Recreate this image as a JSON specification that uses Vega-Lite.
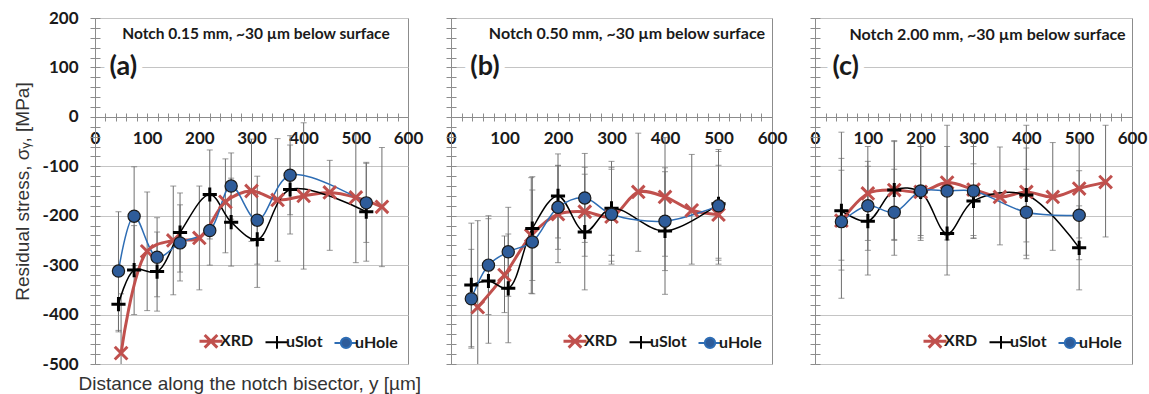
{
"$schema": "https://vega.github.io/schema/vega-lite/v6.json",
"padding": {"left": 12, "top": 8, "right": 0, "bottom": 0},
"autosize": {"type": "pad"},
"bounds": "flush",
"spacing": 43,
"background": "white",
"data": {"values": [
{"p":"a","s":"XRD","x":50,"y":-478,"lo":-598,"hi":-358},
{"p":"a","s":"XRD","x":100,"y":-272,"lo":-392,"hi":-152},
{"p":"a","s":"XRD","x":150,"y":-250,"lo":-360,"hi":-140},
{"p":"a","s":"XRD","x":200,"y":-245,"lo":-350,"hi":-140},
{"p":"a","s":"XRD","x":250,"y":-172,"lo":-275,"hi":-85},
{"p":"a","s":"XRD","x":300,"y":-150,"lo":-252,"hi":-45},
{"p":"a","s":"XRD","x":350,"y":-168,"lo":-292,"hi":-44},
{"p":"a","s":"XRD","x":400,"y":-160,"lo":-308,"hi":-12},
{"p":"a","s":"XRD","x":450,"y":-153,"lo":-270,"hi":-88},
{"p":"a","s":"XRD","x":500,"y":-163,"lo":-295,"hi":-35},
{"p":"a","s":"XRD","x":550,"y":-182,"lo":-303,"hi":-62},
{"p":"a","s":"uSlot","x":45,"y":-379,"lo":-435,"hi":-323},
{"p":"a","s":"uSlot","x":75,"y":-310,"lo":-400,"hi":-220},
{"p":"a","s":"uSlot","x":119,"y":-313,"lo":-393,"hi":-233},
{"p":"a","s":"uSlot","x":163,"y":-234,"lo":-314,"hi":-154},
{"p":"a","s":"uSlot","x":220,"y":-157,"lo":-247,"hi":-67},
{"p":"a","s":"uSlot","x":261,"y":-213,"lo":-302,"hi":-124},
{"p":"a","s":"uSlot","x":311,"y":-248,"lo":-345,"hi":-151},
{"p":"a","s":"uSlot","x":374,"y":-147,"lo":-237,"hi":-57},
{"p":"a","s":"uSlot","x":520,"y":-192,"lo":-292,"hi":-92},
{"p":"a","s":"uHole","x":45,"y":-312,"lo":-432,"hi":-192},
{"p":"a","s":"uHole","x":75,"y":-201,"lo":-301,"hi":-101},
{"p":"a","s":"uHole","x":119,"y":-284,"lo":-364,"hi":-204},
{"p":"a","s":"uHole","x":163,"y":-255,"lo":-332,"hi":-178},
{"p":"a","s":"uHole","x":220,"y":-230,"lo":-300,"hi":-160},
{"p":"a","s":"uHole","x":261,"y":-140,"lo":-207,"hi":-73},
{"p":"a","s":"uHole","x":311,"y":-209,"lo":-298,"hi":-120},
{"p":"a","s":"uHole","x":374,"y":-118,"lo":-198,"hi":-38},
{"p":"a","s":"uHole","x":520,"y":-174,"lo":-254,"hi":-94},
{"p":"b","s":"XRD","x":50,"y":-385,"lo":-560,"hi":-210},
{"p":"b","s":"XRD","x":100,"y":-320,"lo":-396,"hi":-241},
{"p":"b","s":"XRD","x":150,"y":-240,"lo":-357,"hi":-123},
{"p":"b","s":"XRD","x":200,"y":-197,"lo":-295,"hi":-99},
{"p":"b","s":"XRD","x":250,"y":-192,"lo":-282,"hi":-102},
{"p":"b","s":"XRD","x":300,"y":-202,"lo":-298,"hi":-106},
{"p":"b","s":"XRD","x":350,"y":-152,"lo":-272,"hi":-33},
{"p":"b","s":"XRD","x":400,"y":-162,"lo":-282,"hi":-42},
{"p":"b","s":"XRD","x":450,"y":-189,"lo":-298,"hi":-76},
{"p":"b","s":"XRD","x":500,"y":-198,"lo":-298,"hi":-98},
{"p":"b","s":"uSlot","x":38,"y":-340,"lo":-465,"hi":-215},
{"p":"b","s":"uSlot","x":70,"y":-332,"lo":-458,"hi":-206},
{"p":"b","s":"uSlot","x":107,"y":-347,"lo":-457,"hi":-237},
{"p":"b","s":"uSlot","x":152,"y":-226,"lo":-331,"hi":-121},
{"p":"b","s":"uSlot","x":200,"y":-160,"lo":-245,"hi":-75},
{"p":"b","s":"uSlot","x":250,"y":-233,"lo":-350,"hi":-116},
{"p":"b","s":"uSlot","x":300,"y":-185,"lo":-280,"hi":-90},
{"p":"b","s":"uSlot","x":400,"y":-231,"lo":-359,"hi":-103},
{"p":"b","s":"uSlot","x":500,"y":-176,"lo":-286,"hi":-66},
{"p":"b","s":"uHole","x":38,"y":-368,"lo":-468,"hi":-268},
{"p":"b","s":"uHole","x":70,"y":-300,"lo":-400,"hi":-200},
{"p":"b","s":"uHole","x":107,"y":-273,"lo":-363,"hi":-183},
{"p":"b","s":"uHole","x":152,"y":-253,"lo":-358,"hi":-148},
{"p":"b","s":"uHole","x":200,"y":-183,"lo":-268,"hi":-98},
{"p":"b","s":"uHole","x":250,"y":-164,"lo":-254,"hi":-74},
{"p":"b","s":"uHole","x":300,"y":-197,"lo":-292,"hi":-102},
{"p":"b","s":"uHole","x":400,"y":-211,"lo":-311,"hi":-111},
{"p":"b","s":"uHole","x":500,"y":-180,"lo":-290,"hi":-70},
{"p":"c","s":"XRD","x":50,"y":-210,"lo":-367,"hi":-31},
{"p":"c","s":"XRD","x":100,"y":-155,"lo":-250,"hi":-60},
{"p":"c","s":"XRD","x":150,"y":-148,"lo":-248,"hi":-48},
{"p":"c","s":"XRD","x":200,"y":-152,"lo":-250,"hi":-52},
{"p":"c","s":"XRD","x":250,"y":-133,"lo":-249,"hi":-17},
{"p":"c","s":"XRD","x":300,"y":-147,"lo":-246,"hi":-50},
{"p":"c","s":"XRD","x":350,"y":-162,"lo":-259,"hi":-61},
{"p":"c","s":"XRD","x":400,"y":-152,"lo":-287,"hi":-17},
{"p":"c","s":"XRD","x":450,"y":-162,"lo":-270,"hi":-52},
{"p":"c","s":"XRD","x":500,"y":-145,"lo":-245,"hi":-45},
{"p":"c","s":"XRD","x":550,"y":-132,"lo":-243,"hi":-17},
{"p":"c","s":"uSlot","x":50,"y":-190,"lo":-290,"hi":-84},
{"p":"c","s":"uSlot","x":100,"y":-211,"lo":-320,"hi":-100},
{"p":"c","s":"uSlot","x":150,"y":-148,"lo":-250,"hi":-50},
{"p":"c","s":"uSlot","x":200,"y":-152,"lo":-245,"hi":-60},
{"p":"c","s":"uSlot","x":250,"y":-236,"lo":-320,"hi":-152},
{"p":"c","s":"uSlot","x":300,"y":-170,"lo":-245,"hi":-95},
{"p":"c","s":"uSlot","x":400,"y":-158,"lo":-253,"hi":-63},
{"p":"c","s":"uSlot","x":500,"y":-265,"lo":-350,"hi":-180},
{"p":"c","s":"uHole","x":50,"y":-212,"lo":-310,"hi":-108},
{"p":"c","s":"uHole","x":100,"y":-180,"lo":-270,"hi":-90},
{"p":"c","s":"uHole","x":150,"y":-193,"lo":-280,"hi":-106},
{"p":"c","s":"uHole","x":200,"y":-150,"lo":-240,"hi":-60},
{"p":"c","s":"uHole","x":250,"y":-150,"lo":-240,"hi":-60},
{"p":"c","s":"uHole","x":300,"y":-150,"lo":-240,"hi":-60},
{"p":"c","s":"uHole","x":400,"y":-193,"lo":-280,"hi":-106},
{"p":"c","s":"uHole","x":500,"y":-199,"lo":-289,"hi":-109}
]},
"hconcat": [
{
"width": 313, "height": 346,
"transform": [{"filter": "datum.p === 'a'"}],
"resolve": {"axis": {"x": "independent", "y": "independent"}},
"layer": [
{"mark": {"type": "errorbar", "ticks": {"size": 6, "color": "#6e6e6e"}, "color": "#6e6e6e", "thickness": 1, "clip": true},
 "encoding": {
  "x": {"field": "x", "type": "quantitative", "scale": {"domain": [0, 600], "nice": false, "zero": false},
   "axis": {"orient": "bottom", "offset": -247, "values": [0,20,40,60,80,100,120,140,160,180,200,220,240,260,280,300,320,340,360,380,400,420,440,460,480,500,520,540,560,580,600], "labelExpr": "datum.value % 100 === 0 ? '' + datum.value : ''", "tickSize": 4, "labelPadding": 9, "grid": false,
    "title": "Distance along the notch bisector, y [µm]", "titleX": -17, "titleY": 266, "titleAnchor": "start", "titleAlign": "left", "titleBaseline": "middle", "titleFont": "Liberation Sans", "titleFontSize": 19, "titleFontWeight": "normal", "titleColor": "#333333"}},
  "y": {"field": "lo", "type": "quantitative", "scale": {"domain": [-500, 200], "nice": false, "zero": false},
   "axis": {"orient": "left", "values": [-500,-480,-460,-440,-420,-400,-380,-360,-340,-320,-300,-280,-260,-240,-220,-200,-180,-160,-140,-120,-100,-80,-60,-40,-20,0,20,40,60,80,100,120,140,160,180,200], "labelExpr": "datum.value % 100 === 0 ? '' + datum.value : ''", "grid": true, "gridOpacity": {"condition": {"test": "datum.value % 100 === 0", "value": 1}, "value": 0}, "tickSize": 5, "labelPadding": 12,
    "title": "Residual stress, σᵧ, [MPa]", "titleX": -73, "titleY": 173, "titleAngle": -90, "titleAlign": "center", "titleBaseline": "middle", "titleFont": "Liberation Sans", "titleFontSize": 19, "titleFontWeight": "normal", "titleColor": "#333333"}},
  "y2": {"field": "hi"}
 }},
{"transform": [{"filter": "datum.s === 'XRD'"}],
 "mark": {"type": "line", "interpolate": "catmull-rom", "strokeWidth": 3},
 "encoding": {
  "x": {"field": "x", "type": "quantitative", "axis": {"orient": "top", "offset": -99, "values": [0,20,40,60,80,100,120,140,160,180,200,220,240,260,280,300,320,340,360,380,400,420,440,460,480,500,520,540,560,580,600], "labels": false, "domain": false, "grid": false, "tickSize": 4, "title": null}},
  "y": {"field": "y", "type": "quantitative", "axis": {"orient": "right", "offset": -313, "values": [-500,-480,-460,-440,-420,-400,-380,-360,-340,-320,-300,-280,-260,-240,-220,-200,-180,-160,-140,-120,-100,-80,-60,-40,-20,0,20,40,60,80,100,120,140,160,180,200], "labels": false, "domain": false, "grid": false, "tickSize": 5, "title": null}},
  "color": {"field": "s", "type": "nominal", "scale": {"domain": ["XRD", "uSlot", "uHole"], "range": ["#C0504D", "#000000", "#2E6DB4"]},
   "legend": {"orient": "bottom-right", "direction": "horizontal", "title": null, "offset": 10, "symbolSize": 529, "labelFont": "Lato", "labelFontWeight": "bold", "labelFontSize": 16, "labelColor": "#1a1a1a", "columnPadding": 7, "labelOffset": 1,
    "encode": {"symbols": {"update": {
     "shape": {"signal": "datum.value === 'XRD' ? 'M-1,0H1M-0.55,-0.55L0.55,0.55M-0.55,0.55L0.55,-0.55' : datum.value === 'uSlot' ? 'M-1,0H1M0,-0.55V0.55' : 'M-1,0H-0.45M0.45,0H1M0.45,0A0.45,0.45 0 1,1 -0.45,0A0.45,0.45 0 1,1 0.45,0'"},
     "fill": {"signal": "datum.value === 'uHole' ? '#2E5C9A' : 'transparent'"},
     "stroke": {"signal": "datum.value === 'XRD' ? '#C0504D' : datum.value === 'uSlot' ? '#000000' : '#2E6DB4'"},
     "strokeWidth": {"signal": "datum.value === 'XRD' ? 3 : 2"}}}}}}
 }},
{"transform": [{"filter": "datum.s !== 'XRD'"}],
 "mark": {"type": "line", "interpolate": "catmull-rom", "strokeWidth": 1.5},
 "encoding": {
  "x": {"field": "x", "type": "quantitative", "axis": null},
  "y": {"field": "y", "type": "quantitative", "axis": null},
  "color": {"field": "s", "type": "nominal", "legend": null}
 }},
{"transform": [{"filter": "datum.s === 'XRD'"}],
 "mark": {"type": "point", "shape": "M-1,-1L1,1M-1,1L1,-1", "size": 160, "filled": false, "stroke": "#C0504D", "strokeWidth": 3, "opacity": 1},
 "encoding": {"x": {"field": "x", "type": "quantitative", "axis": null}, "y": {"field": "y", "type": "quantitative", "axis": null}}},
{"transform": [{"filter": "datum.s === 'uSlot'"}],
 "mark": {"type": "point", "shape": "M-1,0H1M0,-1V1", "size": 200, "filled": false, "stroke": "#000000", "strokeWidth": 3, "opacity": 1},
 "encoding": {"x": {"field": "x", "type": "quantitative", "axis": null}, "y": {"field": "y", "type": "quantitative", "axis": null}}},
{"transform": [{"filter": "datum.s === 'uHole'"}],
 "mark": {"type": "point", "shape": "circle", "size": 150, "filled": true, "fill": "#2E5C9A", "stroke": "#1a1a1a", "strokeWidth": 1.2, "opacity": 1},
 "encoding": {"x": {"field": "x", "type": "quantitative", "axis": null}, "y": {"field": "y", "type": "quantitative", "axis": null}}},
{"data": {"values": [{"p": "a"}]},
 "mark": {"type": "text", "text": "(a)", "align": "left", "baseline": "middle", "font": "Lato", "fontSize": 27, "fontWeight": "bold", "fill": "white", "stroke": "white", "strokeWidth": 12},
 "encoding": {"x": {"datum": 28, "type": "quantitative", "axis": null}, "y": {"datum": 100, "type": "quantitative", "axis": null}}},
{"data": {"values": [{"p": "a"}]},
 "mark": {"type": "text", "text": "(a)", "align": "left", "baseline": "middle", "font": "Lato", "fontSize": 27, "fontWeight": "bold", "fill": "#1a1a1a"},
 "encoding": {"x": {"datum": 28, "type": "quantitative", "axis": null}, "y": {"datum": 100, "type": "quantitative", "axis": null}}},
{"data": {"values": [{"p": "a"}]},
 "mark": {"type": "text", "text": "Notch 0.15 mm, ~30 µm below surface", "align": "right", "baseline": "middle", "font": "Lato", "fontSize": 15.5, "fontWeight": "bold", "fill": "#1a1a1a"},
 "encoding": {"x": {"datum": 565, "type": "quantitative", "axis": null}, "y": {"datum": 168, "type": "quantitative", "axis": null}}}
]
},
{
"width": 321, "height": 346,
"transform": [{"filter": "datum.p === 'b'"}],
"resolve": {"axis": {"x": "independent", "y": "independent"}},
"layer": [
{"mark": {"type": "errorbar", "ticks": {"size": 6, "color": "#6e6e6e"}, "color": "#6e6e6e", "thickness": 1, "clip": true},
 "encoding": {
  "x": {"field": "x", "type": "quantitative", "scale": {"domain": [0, 600], "nice": false, "zero": false},
   "axis": {"orient": "bottom", "offset": -247, "values": [0,20,40,60,80,100,120,140,160,180,200,220,240,260,280,300,320,340,360,380,400,420,440,460,480,500,520,540,560,580,600], "labelExpr": "datum.value % 100 === 0 ? '' + datum.value : ''", "tickSize": 4, "labelPadding": 9, "grid": false, "title": null}},
  "y": {"field": "lo", "type": "quantitative", "scale": {"domain": [-500, 200], "nice": false, "zero": false},
   "axis": {"orient": "left", "values": [-500,-480,-460,-440,-420,-400,-380,-360,-340,-320,-300,-280,-260,-240,-220,-200,-180,-160,-140,-120,-100,-80,-60,-40,-20,0,20,40,60,80,100,120,140,160,180,200], "labels": false, "grid": true, "gridOpacity": {"condition": {"test": "datum.value % 100 === 0", "value": 1}, "value": 0}, "tickSize": 5, "title": null}},
  "y2": {"field": "hi"}
 }},
{"transform": [{"filter": "datum.s === 'XRD'"}],
 "mark": {"type": "line", "interpolate": "catmull-rom", "strokeWidth": 3},
 "encoding": {
  "x": {"field": "x", "type": "quantitative", "axis": {"orient": "top", "offset": -99, "values": [0,20,40,60,80,100,120,140,160,180,200,220,240,260,280,300,320,340,360,380,400,420,440,460,480,500,520,540,560,580,600], "labels": false, "domain": false, "grid": false, "tickSize": 4, "title": null}},
  "y": {"field": "y", "type": "quantitative", "axis": {"orient": "right", "offset": -321, "values": [-500,-480,-460,-440,-420,-400,-380,-360,-340,-320,-300,-280,-260,-240,-220,-200,-180,-160,-140,-120,-100,-80,-60,-40,-20,0,20,40,60,80,100,120,140,160,180,200], "labels": false, "domain": false, "grid": false, "tickSize": 5, "title": null}},
  "color": {"field": "s", "type": "nominal", "scale": {"domain": ["XRD", "uSlot", "uHole"], "range": ["#C0504D", "#000000", "#2E6DB4"]},
   "legend": {"orient": "bottom-right", "direction": "horizontal", "title": null, "offset": 10, "symbolSize": 529, "labelFont": "Lato", "labelFontWeight": "bold", "labelFontSize": 16, "labelColor": "#1a1a1a", "columnPadding": 7, "labelOffset": 1,
    "encode": {"symbols": {"update": {
     "shape": {"signal": "datum.value === 'XRD' ? 'M-1,0H1M-0.55,-0.55L0.55,0.55M-0.55,0.55L0.55,-0.55' : datum.value === 'uSlot' ? 'M-1,0H1M0,-0.55V0.55' : 'M-1,0H-0.45M0.45,0H1M0.45,0A0.45,0.45 0 1,1 -0.45,0A0.45,0.45 0 1,1 0.45,0'"},
     "fill": {"signal": "datum.value === 'uHole' ? '#2E5C9A' : 'transparent'"},
     "stroke": {"signal": "datum.value === 'XRD' ? '#C0504D' : datum.value === 'uSlot' ? '#000000' : '#2E6DB4'"},
     "strokeWidth": {"signal": "datum.value === 'XRD' ? 3 : 2"}}}}}}
 }},
{"transform": [{"filter": "datum.s !== 'XRD'"}],
 "mark": {"type": "line", "interpolate": "catmull-rom", "strokeWidth": 1.5},
 "encoding": {
  "x": {"field": "x", "type": "quantitative", "axis": null},
  "y": {"field": "y", "type": "quantitative", "axis": null},
  "color": {"field": "s", "type": "nominal", "legend": null}
 }},
{"transform": [{"filter": "datum.s === 'XRD'"}],
 "mark": {"type": "point", "shape": "M-1,-1L1,1M-1,1L1,-1", "size": 160, "filled": false, "stroke": "#C0504D", "strokeWidth": 3, "opacity": 1},
 "encoding": {"x": {"field": "x", "type": "quantitative", "axis": null}, "y": {"field": "y", "type": "quantitative", "axis": null}}},
{"transform": [{"filter": "datum.s === 'uSlot'"}],
 "mark": {"type": "point", "shape": "M-1,0H1M0,-1V1", "size": 200, "filled": false, "stroke": "#000000", "strokeWidth": 3, "opacity": 1},
 "encoding": {"x": {"field": "x", "type": "quantitative", "axis": null}, "y": {"field": "y", "type": "quantitative", "axis": null}}},
{"transform": [{"filter": "datum.s === 'uHole'"}],
 "mark": {"type": "point", "shape": "circle", "size": 150, "filled": true, "fill": "#2E5C9A", "stroke": "#1a1a1a", "strokeWidth": 1.2, "opacity": 1},
 "encoding": {"x": {"field": "x", "type": "quantitative", "axis": null}, "y": {"field": "y", "type": "quantitative", "axis": null}}},
{"data": {"values": [{"p": "b"}]},
 "mark": {"type": "text", "text": "(b)", "align": "left", "baseline": "middle", "font": "Lato", "fontSize": 27, "fontWeight": "bold", "fill": "white", "stroke": "white", "strokeWidth": 12},
 "encoding": {"x": {"datum": 36, "type": "quantitative", "axis": null}, "y": {"datum": 100, "type": "quantitative", "axis": null}}},
{"data": {"values": [{"p": "b"}]},
 "mark": {"type": "text", "text": "(b)", "align": "left", "baseline": "middle", "font": "Lato", "fontSize": 27, "fontWeight": "bold", "fill": "#1a1a1a"},
 "encoding": {"x": {"datum": 36, "type": "quantitative", "axis": null}, "y": {"datum": 100, "type": "quantitative", "axis": null}}},
{"data": {"values": [{"p": "b"}]},
 "mark": {"type": "text", "text": "Notch 0.50 mm, ~30 µm below surface", "align": "right", "baseline": "middle", "font": "Lato", "fontSize": 16, "fontWeight": "bold", "fill": "#1a1a1a"},
 "encoding": {"x": {"datum": 587, "type": "quantitative", "axis": null}, "y": {"datum": 168, "type": "quantitative", "axis": null}}}
]
},
{
"width": 317, "height": 346,
"transform": [{"filter": "datum.p === 'c'"}],
"resolve": {"axis": {"x": "independent", "y": "independent"}},
"layer": [
{"mark": {"type": "errorbar", "ticks": {"size": 6, "color": "#6e6e6e"}, "color": "#6e6e6e", "thickness": 1, "clip": true},
 "encoding": {
  "x": {"field": "x", "type": "quantitative", "scale": {"domain": [0, 600], "nice": false, "zero": false},
   "axis": {"orient": "bottom", "offset": -247, "values": [0,20,40,60,80,100,120,140,160,180,200,220,240,260,280,300,320,340,360,380,400,420,440,460,480,500,520,540,560,580,600], "labelExpr": "datum.value % 100 === 0 ? '' + datum.value : ''", "tickSize": 4, "labelPadding": 9, "grid": false, "title": null}},
  "y": {"field": "lo", "type": "quantitative", "scale": {"domain": [-500, 200], "nice": false, "zero": false},
   "axis": {"orient": "left", "values": [-500,-480,-460,-440,-420,-400,-380,-360,-340,-320,-300,-280,-260,-240,-220,-200,-180,-160,-140,-120,-100,-80,-60,-40,-20,0,20,40,60,80,100,120,140,160,180,200], "labels": false, "grid": true, "gridOpacity": {"condition": {"test": "datum.value % 100 === 0", "value": 1}, "value": 0}, "tickSize": 5, "title": null}},
  "y2": {"field": "hi"}
 }},
{"transform": [{"filter": "datum.s === 'XRD'"}],
 "mark": {"type": "line", "interpolate": "catmull-rom", "strokeWidth": 3},
 "encoding": {
  "x": {"field": "x", "type": "quantitative", "axis": {"orient": "top", "offset": -99, "values": [0,20,40,60,80,100,120,140,160,180,200,220,240,260,280,300,320,340,360,380,400,420,440,460,480,500,520,540,560,580,600], "labels": false, "domain": false, "grid": false, "tickSize": 4, "title": null}},
  "y": {"field": "y", "type": "quantitative", "axis": {"orient": "right", "offset": -317, "values": [-500,-480,-460,-440,-420,-400,-380,-360,-340,-320,-300,-280,-260,-240,-220,-200,-180,-160,-140,-120,-100,-80,-60,-40,-20,0,20,40,60,80,100,120,140,160,180,200], "labels": false, "domain": false, "grid": false, "tickSize": 5, "title": null}},
  "color": {"field": "s", "type": "nominal", "scale": {"domain": ["XRD", "uSlot", "uHole"], "range": ["#C0504D", "#000000", "#2E6DB4"]},
   "legend": {"orient": "bottom-right", "direction": "horizontal", "title": null, "offset": 10, "symbolSize": 529, "labelFont": "Lato", "labelFontWeight": "bold", "labelFontSize": 16, "labelColor": "#1a1a1a", "columnPadding": 7, "labelOffset": 1,
    "encode": {"symbols": {"update": {
     "shape": {"signal": "datum.value === 'XRD' ? 'M-1,0H1M-0.55,-0.55L0.55,0.55M-0.55,0.55L0.55,-0.55' : datum.value === 'uSlot' ? 'M-1,0H1M0,-0.55V0.55' : 'M-1,0H-0.45M0.45,0H1M0.45,0A0.45,0.45 0 1,1 -0.45,0A0.45,0.45 0 1,1 0.45,0'"},
     "fill": {"signal": "datum.value === 'uHole' ? '#2E5C9A' : 'transparent'"},
     "stroke": {"signal": "datum.value === 'XRD' ? '#C0504D' : datum.value === 'uSlot' ? '#000000' : '#2E6DB4'"},
     "strokeWidth": {"signal": "datum.value === 'XRD' ? 3 : 2"}}}}}}
 }},
{"transform": [{"filter": "datum.s !== 'XRD'"}],
 "mark": {"type": "line", "interpolate": "catmull-rom", "strokeWidth": 1.5},
 "encoding": {
  "x": {"field": "x", "type": "quantitative", "axis": null},
  "y": {"field": "y", "type": "quantitative", "axis": null},
  "color": {"field": "s", "type": "nominal", "legend": null}
 }},
{"transform": [{"filter": "datum.s === 'XRD'"}],
 "mark": {"type": "point", "shape": "M-1,-1L1,1M-1,1L1,-1", "size": 160, "filled": false, "stroke": "#C0504D", "strokeWidth": 3, "opacity": 1},
 "encoding": {"x": {"field": "x", "type": "quantitative", "axis": null}, "y": {"field": "y", "type": "quantitative", "axis": null}}},
{"transform": [{"filter": "datum.s === 'uSlot'"}],
 "mark": {"type": "point", "shape": "M-1,0H1M0,-1V1", "size": 200, "filled": false, "stroke": "#000000", "strokeWidth": 3, "opacity": 1},
 "encoding": {"x": {"field": "x", "type": "quantitative", "axis": null}, "y": {"field": "y", "type": "quantitative", "axis": null}}},
{"transform": [{"filter": "datum.s === 'uHole'"}],
 "mark": {"type": "point", "shape": "circle", "size": 150, "filled": true, "fill": "#2E5C9A", "stroke": "#1a1a1a", "strokeWidth": 1.2, "opacity": 1},
 "encoding": {"x": {"field": "x", "type": "quantitative", "axis": null}, "y": {"field": "y", "type": "quantitative", "axis": null}}},
{"data": {"values": [{"p": "c"}]},
 "mark": {"type": "text", "text": "(c)", "align": "left", "baseline": "middle", "font": "Lato", "fontSize": 27, "fontWeight": "bold", "fill": "white", "stroke": "white", "strokeWidth": 12},
 "encoding": {"x": {"datum": 33, "type": "quantitative", "axis": null}, "y": {"datum": 100, "type": "quantitative", "axis": null}}},
{"data": {"values": [{"p": "c"}]},
 "mark": {"type": "text", "text": "(c)", "align": "left", "baseline": "middle", "font": "Lato", "fontSize": 27, "fontWeight": "bold", "fill": "#1a1a1a"},
 "encoding": {"x": {"datum": 33, "type": "quantitative", "axis": null}, "y": {"datum": 100, "type": "quantitative", "axis": null}}},
{"data": {"values": [{"p": "c"}]},
 "mark": {"type": "text", "text": "Notch 2.00 mm, ~30 µm below surface", "align": "right", "baseline": "middle", "font": "Lato", "fontSize": 16, "fontWeight": "bold", "fill": "#1a1a1a"},
 "encoding": {"x": {"datum": 588, "type": "quantitative", "axis": null}, "y": {"datum": 166, "type": "quantitative", "axis": null}}}
]
}
],
"resolve": {"scale": {"color": "independent"}, "legend": {"color": "independent"}},
"config": {
 "view": {"stroke": "#8c8c8c", "strokeWidth": 1},
 "axis": {"domainColor": "#8c8c8c", "tickColor": "#8c8c8c", "gridColor": "#c4c4c4", "gridWidth": 1, "labelFont": "Lato", "labelFontWeight": "bold", "labelFontSize": 17, "labelColor": "#1a1a1a", "labelOverlap": false, "labelFlush": false, "domainWidth": 1, "tickWidth": 1},
 "font": "Lato"
}
}
